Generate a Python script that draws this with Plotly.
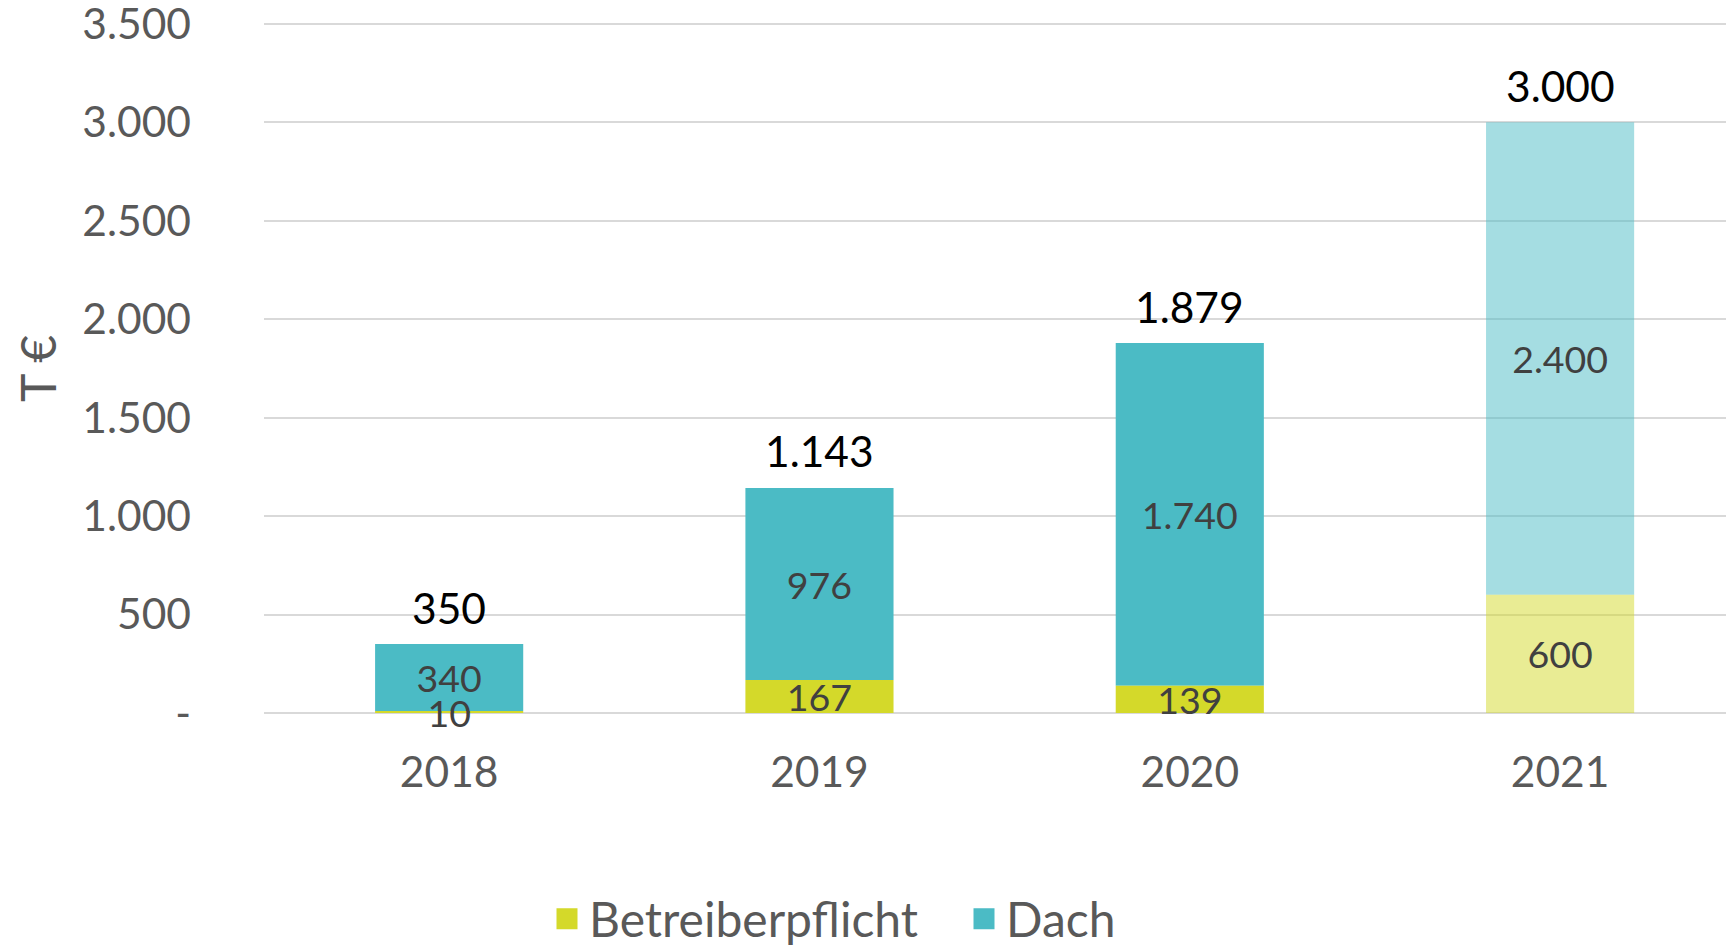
import plotly.graph_objects as go

years = ["2018", "2019", "2020", "2021"]
betreiberpflicht = [10, 167, 139, 600]
dach = [340, 976, 1740, 2400]
totals = [350, 1143, 1879, 3000]
y_tickvals = [0, 500, 1000, 1500, 2000, 2500, 3000, 3500]
y_ticktext = ["-", "500", "1.000", "1.500", "2.000", "2.500", "3.000", "3.500"]

def fmt(v):
    return f"{v:,}".replace(",", ".")

FONT = "Lato"
YEL = "212,217,42"
TEAL = "75,187,197"
alphas = [1, 1, 1, 0.5]
TICK_SIZE = 42.5
SEG_SIZE = 37.5
LEG_SIZE = 48

fig = go.Figure()
# Dach drawn first (stacked via base) so Betreiberpflicht labels paint above it.
fig.add_trace(go.Bar(
    name="Dach", x=years, y=dach, base=betreiberpflicht,
    marker=dict(color=[f"rgba({TEAL},{a})" for a in alphas], line=dict(width=0)),
    text=[fmt(v) for v in dach], textposition="inside",
    insidetextanchor="middle", textangle=0, constraintext="none",
    textfont=dict(family=FONT, size=SEG_SIZE, color="#404040"), cliponaxis=False,
    hoverinfo="skip", showlegend=False, legendgroup="d",
))
fig.add_trace(go.Bar(
    name="Betreiberpflicht", x=years, y=betreiberpflicht,
    marker=dict(color=[f"rgba({YEL},{a})" for a in alphas], line=dict(width=0)),
    text=[fmt(v) for v in betreiberpflicht], textposition="inside",
    insidetextanchor="middle", textangle=0, constraintext="none",
    textfont=dict(family=FONT, size=SEG_SIZE, color="#404040"), cliponaxis=False,
    hoverinfo="skip", showlegend=False, legendgroup="b",
))
# legend entries
for nm, col, grp in [("Betreiberpflicht", YEL, "b"), ("Dach", TEAL, "d")]:
    fig.add_trace(go.Scatter(
        name=nm, x=[None], y=[None], mode="markers", legendgroup=grp,
        marker=dict(symbol="square", size=16, color=f"rgb({col})",
                    line=dict(width=5, color=f"rgb({col})")),
    ))

for i, t in enumerate(totals):
    fig.add_annotation(x=i, y=t, text=fmt(t), showarrow=False, yanchor="bottom",
                       yshift=9.5, font=dict(family=FONT, size=TICK_SIZE, color="#000000"))

fig.add_annotation(xref="paper", yref="paper", x=(37 - 264) / 1462, y=(713 - 369) / 695,
                   text="T €", textangle=-90, showarrow=False,
                   xanchor="center", yanchor="middle",
                   font=dict(family=FONT, size=LEG_SIZE, color="#595959"))

fig.update_layout(
    width=1726, height=945,
    margin=dict(l=264, r=0, t=18, b=232, pad=0, autoexpand=False),
    barmode="overlay", bargap=0.6,
    plot_bgcolor="white", paper_bgcolor="white",
    font=dict(family=FONT, color="#595959"),
    showlegend=True,
    legend=dict(orientation="h", x=(545 - 264) / 1462, xanchor="left",
                y=-(919 - 713) / 695, yanchor="middle",
                font=dict(family=FONT, size=LEG_SIZE, color="#595959"),
                traceorder="normal", itemwidth=34, entrywidth=368),
)
fig.update_xaxes(type="category", range=[-0.5, 3.448], showgrid=False,
                 showline=False, zeroline=False, ticks="",
                 tickfont=dict(family=FONT, size=TICK_SIZE, color="#595959"),
                 ticklabelstandoff=30)
fig.update_yaxes(range=[0, 3530], tickvals=y_tickvals, ticktext=y_ticktext,
                 showgrid=True, gridcolor="#d9d9d9", gridwidth=1.5,
                 zeroline=True, zerolinecolor="#d9d9d9", zerolinewidth=1.5,
                 showline=False, ticks="", ticklabeloverflow="allow",
                 tickfont=dict(family=FONT, size=TICK_SIZE, color="#595959"),
                 ticklabelstandoff=72)

fig.write_html("out.html", config={"displayModeBar": False},
               post_script="document.body.style.margin='0';")
